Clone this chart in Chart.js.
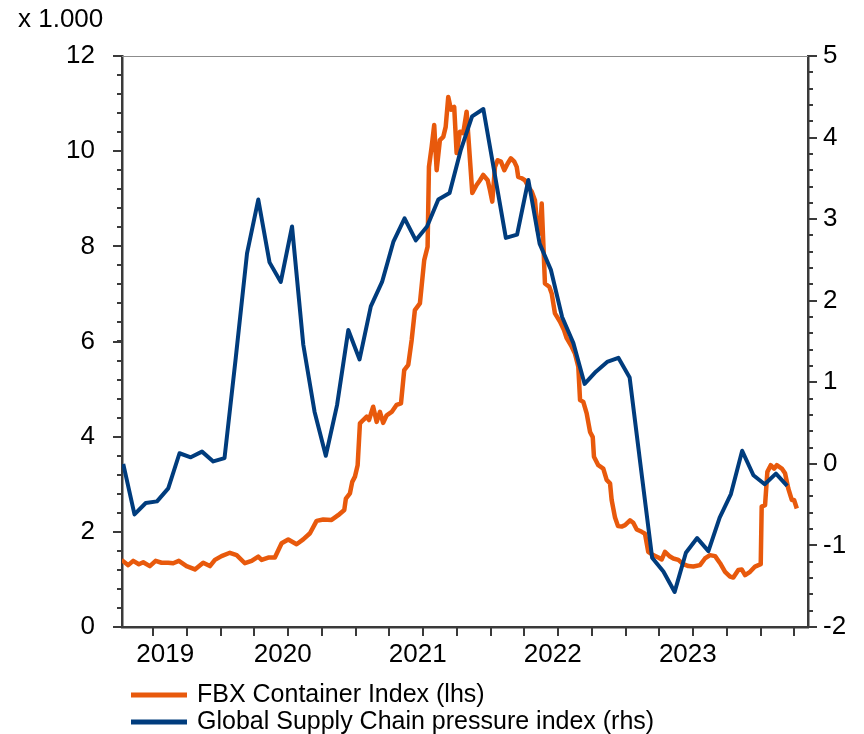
<!DOCTYPE html>
<html>
<head>
<meta charset="utf-8">
<script src="https://cdn.jsdelivr.net/npm/chart.js@4.4.0/dist/chart.umd.min.js"></script>
<style>
  html, body { margin: 0; padding: 0; background: #fff; }
  #wrap { width: 864px; height: 734px; }
</style>
</head>
<body>
<div id="wrap"><canvas id="myChart" width="864" height="734"></canvas></div>
<script>
// FBX container index, weekly-ish, in thousands (left axis), dates as decimal years
var fbxDates = [
  2019.267, 2019.316, 2019.353, 2019.395, 2019.427, 2019.476, 2019.519, 2019.563, 2019.612, 2019.649,
  2019.691, 2019.748, 2019.810, 2019.871, 2019.921, 2019.958, 2020.007, 2020.069, 2020.119, 2020.180,
  2020.230, 2020.279, 2020.304, 2020.353, 2020.402, 2020.452, 2020.501, 2020.563, 2020.612, 2020.662,
  2020.711, 2020.760, 2020.822, 2020.871, 2020.916, 2020.928, 2020.958, 2020.975, 2020.995, 2021.015,
  2021.032, 2021.056, 2021.082, 2021.099, 2021.130, 2021.156, 2021.180, 2021.204, 2021.230, 2021.267,
  2021.304, 2021.336, 2021.360, 2021.390, 2021.415, 2021.439, 2021.476, 2021.508, 2021.533, 2021.543,
  2021.563, 2021.582, 2021.600, 2021.624, 2021.649, 2021.667, 2021.686, 2021.706, 2021.730, 2021.748,
  2021.773, 2021.797, 2021.822, 2021.864, 2021.896, 2021.921, 2021.945, 2021.978, 2021.995, 2022.012,
  2022.032, 2022.052, 2022.076, 2022.101, 2022.126, 2022.150, 2022.175, 2022.193, 2022.204, 2022.230,
  2022.254, 2022.279, 2022.304, 2022.328, 2022.348, 2022.365, 2022.378, 2022.402, 2022.434, 2022.452,
  2022.476, 2022.513, 2022.543, 2022.563, 2022.600, 2022.624, 2022.649, 2022.662, 2022.686, 2022.711,
  2022.736, 2022.756, 2022.765, 2022.797, 2022.834, 2022.859, 2022.884, 2022.896, 2022.921, 2022.943,
  2022.970, 2022.995, 2023.032, 2023.056, 2023.082, 2023.119, 2023.143, 2023.167, 2023.204, 2023.242,
  2023.267, 2023.291, 2023.328, 2023.353, 2023.390, 2023.427, 2023.464, 2023.501, 2023.550, 2023.587,
  2023.624, 2023.662, 2023.699, 2023.736, 2023.773, 2023.797, 2023.834, 2023.859, 2023.884, 2023.921,
  2023.958, 2024.000, 2024.007, 2024.032, 2024.049, 2024.074, 2024.099, 2024.119, 2024.156, 2024.180,
  2024.204, 2024.230, 2024.247, 2024.267
];
var fbxValues = [
  1.41, 1.30, 1.39, 1.32, 1.36, 1.28, 1.39, 1.35, 1.35, 1.34,
  1.39, 1.28, 1.21, 1.35, 1.28, 1.41, 1.49, 1.56, 1.51, 1.34,
  1.39, 1.48, 1.41, 1.46, 1.46, 1.76, 1.84, 1.74, 1.84, 1.97,
  2.23, 2.26, 2.25, 2.35, 2.46, 2.70, 2.81, 3.05, 3.16, 3.40,
  4.28, 4.35, 4.42, 4.35, 4.63, 4.31, 4.52, 4.29, 4.45, 4.52,
  4.67, 4.70, 5.40, 5.51, 6.03, 6.66, 6.80, 7.71, 7.99, 9.67,
  10.09, 10.55, 9.60, 10.23, 10.30, 10.51, 11.14, 10.87, 10.93, 9.96,
  10.41, 10.38, 10.83, 9.12, 9.29, 9.39, 9.50, 9.39, 9.18, 8.94,
  9.67, 9.81, 9.78, 9.60, 9.74, 9.85, 9.78, 9.67, 9.46, 9.43,
  9.39, 9.25, 9.15, 8.97, 8.34, 8.27, 8.90, 7.22, 7.15, 7.01,
  6.59, 6.42, 6.24, 6.07, 5.89, 5.75, 5.47, 4.77, 4.73, 4.49,
  4.10, 3.99, 3.58, 3.40, 3.33, 3.09, 3.02, 2.67, 2.30, 2.12,
  2.11, 2.14, 2.24, 2.19, 2.05, 2.00, 1.96, 1.58, 1.51, 1.46,
  1.42, 1.58, 1.48, 1.44, 1.41, 1.32, 1.28, 1.27, 1.30, 1.44,
  1.51, 1.49, 1.34, 1.16, 1.06, 1.04, 1.20, 1.21, 1.09, 1.16,
  1.27, 1.32, 2.53, 2.56, 3.26, 3.40, 3.33, 3.40, 3.33, 3.23,
  2.91, 2.67, 2.67, 2.49
];

// Global Supply Chain Pressure Index, monthly (right axis)
var gscpiMonths = [
  '2019-04', '2019-05', '2019-06', '2019-07', '2019-08', '2019-09', '2019-10', '2019-11', '2019-12',
  '2020-01', '2020-02', '2020-03', '2020-04', '2020-05', '2020-06', '2020-07', '2020-08', '2020-09', '2020-10', '2020-11', '2020-12',
  '2021-01', '2021-02', '2021-03', '2021-04', '2021-05', '2021-06', '2021-07', '2021-08', '2021-09', '2021-10', '2021-11', '2021-12',
  '2022-01', '2022-02', '2022-03', '2022-04', '2022-05', '2022-06', '2022-07', '2022-08', '2022-09', '2022-10', '2022-11', '2022-12',
  '2023-01', '2023-02', '2023-03', '2023-04', '2023-05', '2023-06', '2023-07', '2023-08', '2023-09', '2023-10', '2023-11', '2023-12',
  '2024-01', '2024-02', '2024-03'
];
var gscpiValues = [
  0.00, -0.62, -0.48, -0.46, -0.30, 0.13, 0.08, 0.15, 0.03,
  0.07, 1.30, 2.58, 3.24, 2.47, 2.23, 2.91, 1.46, 0.64, 0.10, 0.72, 1.64,
  1.28, 1.93, 2.23, 2.72, 3.01, 2.74, 2.91, 3.24, 3.32, 3.85, 4.26, 4.35,
  3.56, 2.77, 2.81, 3.48, 2.70, 2.38, 1.80, 1.48, 0.98, 1.13, 1.25, 1.30,
  1.06, -0.05, -1.15, -1.32, -1.57, -1.09, -0.91, -1.07, -0.66, -0.37, 0.16, -0.14,
  -0.25, -0.12, -0.27
];

var yearLabels = ['2019', '2020', '2021', '2022', '2023'];
var yearLabelPos = [2019.59, 2020.46, 2021.46, 2022.46, 2023.46];
var leftTicks = [0, 2, 4, 6, 8, 10, 12];
var rightTicks = [-2, -1, 0, 1, 2, 3, 4, 5];

var orange = '#e8590c';
var blue = '#003c7d';
var axisColor = '#3a3a3a';

function monthToYear(m) {
  var p = m.split('-');
  return parseInt(p[0]) + (parseInt(p[1]) - 1 + 0.35) / 12;
}

var fbxData = fbxDates.map(function (d, i) { return { x: d, y: fbxValues[i] }; });
var gscpiData = gscpiMonths.map(function (m, i) { return { x: monthToYear(m), y: gscpiValues[i] }; });

// minor tick marks, unit label, top frame line and legend
var extras = {
  id: 'extras',
  afterDraw: function (chart) {
    var ctx = chart.ctx;
    var area = chart.chartArea;
    var yl = chart.scales.y, yr = chart.scales.y2, xs = chart.scales.x;
    ctx.save();
    ctx.strokeStyle = axisColor;
    ctx.lineWidth = 2;
    ctx.beginPath();
    for (var v = 0; v <= 12.001; v += 0.4) {
      var p = Math.round(yl.getPixelForValue(v));
      ctx.moveTo(area.left - 5, p); ctx.lineTo(area.left, p);
    }
    for (var w = -2; w <= 5.001; w += 0.2) {
      var q = Math.round(yr.getPixelForValue(w));
      ctx.moveTo(area.right, q); ctx.lineTo(area.right + 5, q);
    }
    for (var t = 2019.5; t <= 2024.3; t += 0.25) {
      var r = Math.round(xs.getPixelForValue(t));
      ctx.moveTo(r, area.bottom); ctx.lineTo(r, area.bottom + 9);
    }
    ctx.stroke();

    // thin frame on top
    ctx.strokeStyle = '#8c8c8c';
    ctx.lineWidth = 1;
    ctx.beginPath();
    ctx.moveTo(area.left, area.top + 0.5);
    ctx.lineTo(area.right, area.top + 0.5);
    ctx.stroke();

    ctx.fillStyle = '#000';
    ctx.font = '26px "Liberation Sans", Arial, sans-serif';
    ctx.textBaseline = 'middle';
    ctx.textAlign = 'left';
    ctx.fillText('x 1.000', 18, 20);

    // legend
    ctx.font = '25px "Liberation Sans", Arial, sans-serif';
    var rows = [695, 722];
    chart.data.datasets.forEach(function (ds, i) {
      ctx.strokeStyle = ds.borderColor;
      ctx.lineWidth = 5;
      ctx.beginPath();
      ctx.moveTo(131, rows[i]);
      ctx.lineTo(187, rows[i]);
      ctx.stroke();
      ctx.fillText(ds.label, 197, rows[i]);
    });
    ctx.restore();
  }
};

Chart.defaults.font.family = '"Liberation Sans", Arial, sans-serif';
Chart.defaults.font.size = 26;
Chart.defaults.color = '#000';

var ctx = document.getElementById('myChart');
var chart = new Chart(ctx, {
  type: 'line',
  data: {
    datasets: [{
      label: 'FBX Container Index (lhs)',
      data: fbxData,
      yAxisID: 'y',
      borderColor: orange,
      borderWidth: 4.5,
      pointRadius: 0,
      tension: 0,
      borderJoinStyle: 'round',
      order: 1
    }, {
      label: 'Global Supply Chain pressure index (rhs)',
      data: gscpiData,
      yAxisID: 'y2',
      borderColor: blue,
      borderWidth: 4,
      pointRadius: 0,
      tension: 0,
      borderJoinStyle: 'round',
      order: 0
    }]
  },
  options: {
    responsive: false,
    animation: false,
    events: [],
    layout: { padding: { top: 56, left: 0, right: 0, bottom: 0 } },
    plugins: { legend: { display: false }, tooltip: { enabled: false } },
    scales: {
      x: {
        type: 'linear',
        position: 'bottom',
        min: 2019.27,
        max: 2024.35,
        afterBuildTicks: function (scale) {
          scale.ticks = yearLabelPos.map(function (v) { return { value: v }; });
        },
        afterFit: function (scale) { scale.height = 107; },
        ticks: {
          autoSkip: false,
          maxRotation: 0,
          padding: 12,
          callback: function (v, i) { return yearLabels[i]; }
        },
        grid: { display: false, drawTicks: false },
        border: { display: true, color: axisColor, width: 2.5 }
      },
      y: {
        position: 'left',
        min: 0,
        max: 12,
        afterBuildTicks: function (scale) {
          scale.ticks = leftTicks.map(function (v) { return { value: v }; });
        },
        afterFit: function (scale) { scale.width = 122; },
        ticks: { padding: 18 },
        grid: { drawOnChartArea: false, tickLength: 9, color: axisColor, lineWidth: 2 },
        border: { display: true, color: axisColor, width: 2.5 }
      },
      y2: {
        position: 'right',
        min: -2,
        max: 5,
        afterBuildTicks: function (scale) {
          scale.ticks = rightTicks.map(function (v) { return { value: v }; });
        },
        afterFit: function (scale) { scale.width = 56; },
        ticks: { padding: 6 },
        grid: { drawOnChartArea: false, tickLength: 9, color: axisColor, lineWidth: 2 },
        border: { display: true, color: axisColor, width: 2.5 }
      }
    }
  },
  plugins: [extras]
});
</script>
</body>
</html>
